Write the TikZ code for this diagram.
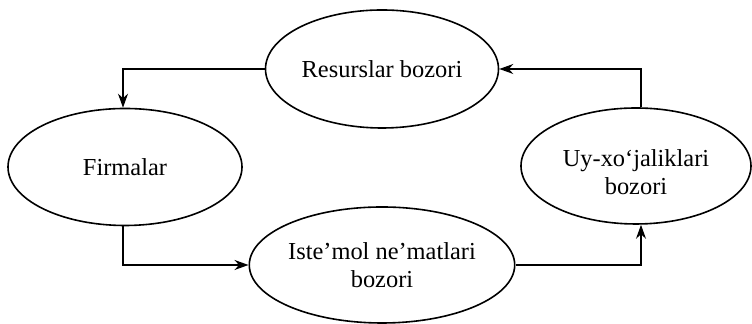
\documentclass[tikz,border=0pt]{standalone}
\usepackage{fontspec}
\setmainfont{Liberation Serif}
\usetikzlibrary{shapes.geometric,arrows.meta}
\begin{document}
\begin{tikzpicture}[x=0.5pt,y=-0.5pt,
  market/.style={draw,ellipse,inner sep=0pt,line width=0.8pt,align=center,
    font=\fontsize{12.2}{14}\selectfont},
  flow/.style={draw,line width=0.8pt,-{Stealth[length=7pt,width=5pt]}}]
\useasboundingbox (0,0) rectangle (752,324);
\node[market,minimum width=116.5pt,minimum height=59pt] (res) at (382,69) {Resurslar bozori};
\node[market,minimum width=117pt,minimum height=58.5pt] (firm) at (125,167) {Firmalar};
\node[market,minimum width=116.5pt,minimum height=58pt] (ist) at (382,265) {Iste’mol ne’matlari\\bozori};
\node[market,minimum width=115pt,minimum height=58pt] (uy) at (636,166) {\strut\\[-9pt]Uy-xo‘jaliklari\\bozori};
\draw[flow] (res.west) -| ([xshift=-1pt]firm.north);
\draw[flow] ([xshift=-1pt]firm.south) |- (ist.west);
\draw[flow] (ist.east) -| ([xshift=2.5pt]uy.south);
\draw[flow] ([xshift=2.5pt]uy.north) |- (res.east);
\end{tikzpicture}
\end{document}
